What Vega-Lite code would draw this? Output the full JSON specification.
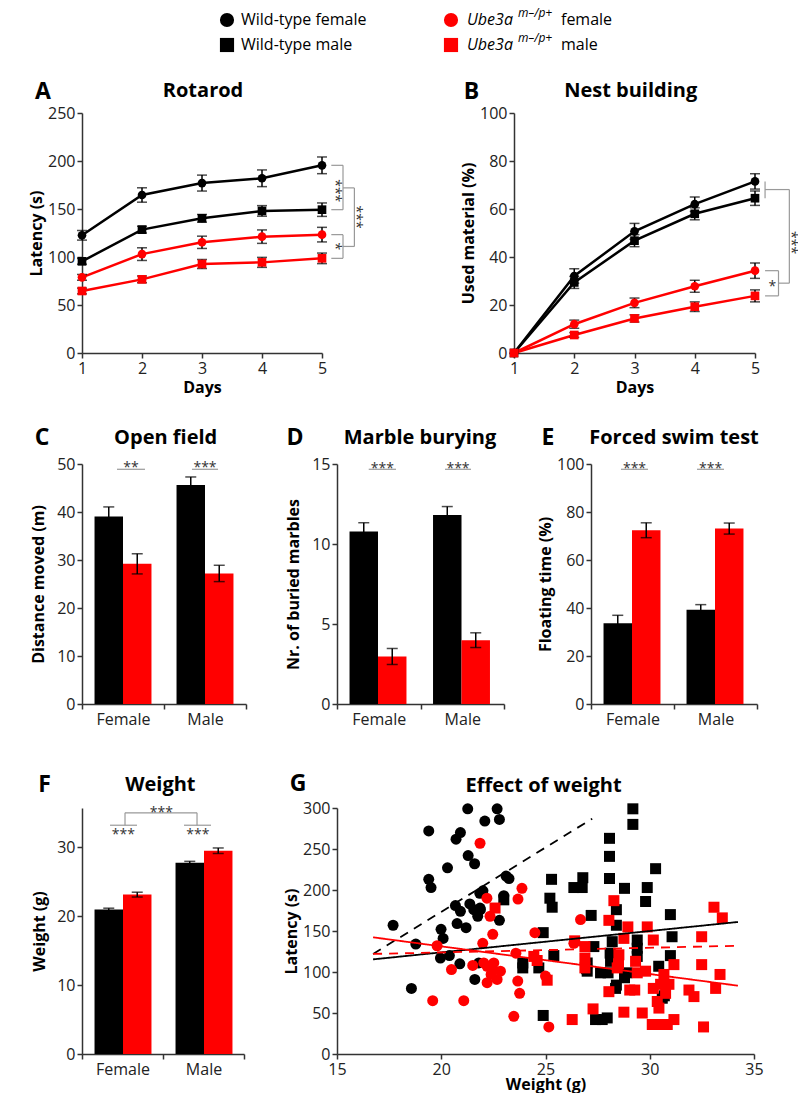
{
"$schema": "https://vega.github.io/schema/vega-lite/v6.json",
"background": "white",
"padding": {"left": 1, "top": 0, "right": 0, "bottom": 0},
"spacing": 0,
"config": {
  "font": "Open Sans",
  "view": {"stroke": null},
  "axis": {"grid": false, "domainColor": "#333333", "domainWidth": 1.5, "tickColor": "#333333", "tickWidth": 1.5, "tickSize": 5, "labelColor": "#222222", "labelFontSize": 16, "labelFont": "Open Sans", "labelPadding": 2, "titleFont": "Open Sans", "titleFontSize": 16, "titleFontWeight": "bold", "titleColor": "#000000", "titlePadding": 3, "labelFlush": false, "labelOverlap": false},
  "axisX": {"titlePadding": 3}
},
"datasets": {
  "empty": [],
  "legend": [
    {"genotype": "WT", "sex": "female", "label": "Wild-type female", "sexlabel": "female"},
    {"genotype": "WT", "sex": "male", "label": "Wild-type male", "sexlabel": "male"},
    {"genotype": "Ube", "sex": "female", "label": "", "sexlabel": "female"},
    {"genotype": "Ube", "sex": "male", "label": "", "sexlabel": "male"}
  ],
  "rotarod": [
    {"genotype": "WT", "sex": "female", "day": 1, "mean": 122.6, "lo": 117.6, "hi": 127.6},
    {"genotype": "WT", "sex": "female", "day": 2, "mean": 164.6, "lo": 157.1, "hi": 172.1},
    {"genotype": "WT", "sex": "female", "day": 3, "mean": 177, "lo": 168.7, "hi": 185.3},
    {"genotype": "WT", "sex": "female", "day": 4, "mean": 182, "lo": 173.3, "hi": 190.7},
    {"genotype": "WT", "sex": "female", "day": 5, "mean": 195.5, "lo": 186.8, "hi": 204.2},
    {"genotype": "WT", "sex": "male", "day": 1, "mean": 95.5, "lo": 92.5, "hi": 98.5},
    {"genotype": "WT", "sex": "male", "day": 2, "mean": 128.5, "lo": 125, "hi": 132},
    {"genotype": "WT", "sex": "male", "day": 3, "mean": 140.3, "lo": 136.3, "hi": 144.3},
    {"genotype": "WT", "sex": "male", "day": 4, "mean": 148, "lo": 142.5, "hi": 153.5},
    {"genotype": "WT", "sex": "male", "day": 5, "mean": 149.3, "lo": 142.3, "hi": 156.3},
    {"genotype": "Ube", "sex": "female", "day": 1, "mean": 78.8, "lo": 75.8, "hi": 81.8},
    {"genotype": "Ube", "sex": "female", "day": 2, "mean": 103, "lo": 96.4, "hi": 109.6},
    {"genotype": "Ube", "sex": "female", "day": 3, "mean": 115.3, "lo": 108.9, "hi": 121.7},
    {"genotype": "Ube", "sex": "female", "day": 4, "mean": 121.2, "lo": 114.2, "hi": 128.2},
    {"genotype": "Ube", "sex": "female", "day": 5, "mean": 123.3, "lo": 115.7, "hi": 130.9},
    {"genotype": "Ube", "sex": "male", "day": 1, "mean": 64.6, "lo": 61.6, "hi": 67.6},
    {"genotype": "Ube", "sex": "male", "day": 2, "mean": 76.7, "lo": 73.2, "hi": 80.2},
    {"genotype": "Ube", "sex": "male", "day": 3, "mean": 92.7, "lo": 88, "hi": 97.4},
    {"genotype": "Ube", "sex": "male", "day": 4, "mean": 94.4, "lo": 89.2, "hi": 99.6},
    {"genotype": "Ube", "sex": "male", "day": 5, "mean": 98.6, "lo": 93.1, "hi": 104.1}
  ],
  "nest": [
    {"genotype": "WT", "sex": "female", "day": 1, "mean": 0, "lo": 0, "hi": 0},
    {"genotype": "WT", "sex": "female", "day": 2, "mean": 32.1, "lo": 29.1, "hi": 35.1},
    {"genotype": "WT", "sex": "female", "day": 3, "mean": 50.7, "lo": 47.4, "hi": 54},
    {"genotype": "WT", "sex": "female", "day": 4, "mean": 62, "lo": 59, "hi": 65},
    {"genotype": "WT", "sex": "female", "day": 5, "mean": 71.5, "lo": 68.3, "hi": 74.7},
    {"genotype": "WT", "sex": "male", "day": 1, "mean": 0, "lo": 0, "hi": 0},
    {"genotype": "WT", "sex": "male", "day": 2, "mean": 29.4, "lo": 26.9, "hi": 31.9},
    {"genotype": "WT", "sex": "male", "day": 3, "mean": 46.8, "lo": 44.3, "hi": 49.3},
    {"genotype": "WT", "sex": "male", "day": 4, "mean": 58, "lo": 55.5, "hi": 60.5},
    {"genotype": "WT", "sex": "male", "day": 5, "mean": 64.5, "lo": 61.5, "hi": 67.5},
    {"genotype": "Ube", "sex": "female", "day": 1, "mean": 0, "lo": 0, "hi": 0},
    {"genotype": "Ube", "sex": "female", "day": 2, "mean": 12, "lo": 10.3, "hi": 13.7},
    {"genotype": "Ube", "sex": "female", "day": 3, "mean": 20.9, "lo": 18.9, "hi": 22.9},
    {"genotype": "Ube", "sex": "female", "day": 4, "mean": 27.8, "lo": 25.3, "hi": 30.3},
    {"genotype": "Ube", "sex": "female", "day": 5, "mean": 34.3, "lo": 31.1, "hi": 37.5},
    {"genotype": "Ube", "sex": "male", "day": 1, "mean": 0, "lo": 0, "hi": 0},
    {"genotype": "Ube", "sex": "male", "day": 2, "mean": 7.5, "lo": 6.5, "hi": 8.5},
    {"genotype": "Ube", "sex": "male", "day": 3, "mean": 14.4, "lo": 12.9, "hi": 15.9},
    {"genotype": "Ube", "sex": "male", "day": 4, "mean": 19.3, "lo": 17.3, "hi": 21.3},
    {"genotype": "Ube", "sex": "male", "day": 5, "mean": 23.8, "lo": 21.3, "hi": 26.3}
  ],
  "openfield": [
    {"sex": "Female", "genotype": "WT", "mean": 39.06, "lo": 37.06, "hi": 41.06},
    {"sex": "Female", "genotype": "Ube", "mean": 29.2, "lo": 27.1, "hi": 31.3},
    {"sex": "Male", "genotype": "WT", "mean": 45.6, "lo": 43.9, "hi": 47.3},
    {"sex": "Male", "genotype": "Ube", "mean": 27.2, "lo": 25.5, "hi": 28.9}
  ],
  "marble": [
    {"sex": "Female", "genotype": "WT", "mean": 10.78, "lo": 10.23, "hi": 11.33},
    {"sex": "Female", "genotype": "Ube", "mean": 2.97, "lo": 2.47, "hi": 3.47},
    {"sex": "Male", "genotype": "WT", "mean": 11.82, "lo": 11.3, "hi": 12.34},
    {"sex": "Male", "genotype": "Ube", "mean": 3.99, "lo": 3.53, "hi": 4.45}
  ],
  "swim": [
    {"sex": "Female", "genotype": "WT", "mean": 33.66, "lo": 30.36, "hi": 36.96},
    {"sex": "Female", "genotype": "Ube", "mean": 72.4, "lo": 69.3, "hi": 75.5},
    {"sex": "Male", "genotype": "WT", "mean": 39.3, "lo": 37.2, "hi": 41.4},
    {"sex": "Male", "genotype": "Ube", "mean": 73.1, "lo": 70.8, "hi": 75.4}
  ],
  "weightbars": [
    {"sex": "Female", "genotype": "WT", "mean": 20.96, "lo": 20.76, "hi": 21.16},
    {"sex": "Female", "genotype": "Ube", "mean": 23.13, "lo": 22.78, "hi": 23.48},
    {"sex": "Male", "genotype": "WT", "mean": 27.76, "lo": 27.56, "hi": 27.96},
    {"sex": "Male", "genotype": "Ube", "mean": 29.5, "lo": 29.1, "hi": 29.9}
  ],
  "frameA": [{"x": -0.3, "y": 367.7, "y2": -61.46}],
  "frameC": [{"x": -0.951, "y": 60.625, "y2": -12.29}],
  "frameF": [{"x": -0.988, "y": 42.23, "y2": -5.8}],
  "segA": [
    {"x": 5.155, "x2": 5.35, "y": 195.5, "y2": 195.5},
    {"x": 5.155, "x2": 5.35, "y": 149.3, "y2": 149.3},
    {"x": 5.35, "x2": 5.35, "y": 195.5, "y2": 149.3},
    {"x": 5.155, "x2": 5.35, "y": 123.3, "y2": 123.3},
    {"x": 5.155, "x2": 5.35, "y": 98.6, "y2": 98.6},
    {"x": 5.35, "x2": 5.35, "y": 123.3, "y2": 98.6},
    {"x": 5.35, "x2": 5.54, "y": 172, "y2": 172},
    {"x": 5.35, "x2": 5.54, "y": 111, "y2": 111},
    {"x": 5.54, "x2": 5.54, "y": 172, "y2": 111}
  ],
  "notesA": [
    {"kind": "letter", "x": 0.35, "y": 271.9, "label": "A"},
    {"kind": "ptitle", "x": 3.017, "y": 273, "label": "Rotarod"},
    {"kind": "vstar", "x": 5.22, "y": 169, "label": "***"},
    {"kind": "vstar", "x": 5.22, "y": 111, "label": "*"},
    {"kind": "vstar", "x": 5.57, "y": 141.5, "label": "***"}
  ],
  "segB": [
    {"x": 5.167, "x2": 5.167, "y": 71.5, "y2": 64.5},
    {"x": 5.167, "x2": 5.57, "y": 68.1, "y2": 68.1},
    {"x": 5.57, "x2": 5.57, "y": 68.1, "y2": 29.1},
    {"x": 5.39, "x2": 5.57, "y": 29.1, "y2": 29.1},
    {"x": 5.167, "x2": 5.39, "y": 34.3, "y2": 34.3},
    {"x": 5.167, "x2": 5.39, "y": 23.8, "y2": 23.8},
    {"x": 5.39, "x2": 5.39, "y": 34.3, "y2": 23.8}
  ],
  "notesB": [
    {"kind": "letter", "x": 0.295, "y": 108.75, "label": "B"},
    {"kind": "ptitle", "x": 2.937, "y": 109.2, "label": "Nest building"},
    {"kind": "star", "x": 5.29, "y": 29.1, "label": "*"},
    {"kind": "vstar", "x": 5.59, "y": 46, "label": "***"}
  ],
  "segC": [
    {"x": 0.427, "x2": 0.768, "y": 48.9, "y2": 48.9},
    {"x": 1.341, "x2": 1.659, "y": 48.9, "y2": 48.9}
  ],
  "notesC": [
    {"kind": "letter", "x": -0.488, "y": 55.4, "label": "C"},
    {"kind": "ptitle", "x": 1.02, "y": 55.4, "label": "Open field"},
    {"kind": "star", "x": 0.597, "y": 49.9, "label": "**"},
    {"kind": "star", "x": 1.5, "y": 49.9, "label": "***"}
  ],
  "segD": [
    {"x": 0.38, "x2": 0.707, "y": 14.67, "y2": 14.67},
    {"x": 1.293, "x2": 1.605, "y": 14.67, "y2": 14.67}
  ],
  "notesD": [
    {"kind": "letter", "x": -0.503, "y": 16.63, "label": "D"},
    {"kind": "ptitle", "x": 0.994, "y": 16.63, "label": "Marble burying"},
    {"kind": "star", "x": 0.543, "y": 14.96, "label": "***"},
    {"kind": "star", "x": 1.449, "y": 14.96, "label": "***"}
  ],
  "segE": [
    {"x": 0.361, "x2": 0.687, "y": 97.8, "y2": 97.8},
    {"x": 1.277, "x2": 1.602, "y": 97.8, "y2": 97.8}
  ],
  "notesE": [
    {"kind": "letter", "x": -0.518, "y": 110.8, "label": "E"},
    {"kind": "ptitle", "x": 1.0, "y": 110.8, "label": "Forced swim test"},
    {"kind": "star", "x": 0.524, "y": 99.76, "label": "***"},
    {"kind": "star", "x": 1.44, "y": 99.76, "label": "***"}
  ],
  "segF": [
    {"x": 0.346, "x2": 0.679, "y": 33.2, "y2": 33.2},
    {"x": 1.259, "x2": 1.593, "y": 33.2, "y2": 33.2},
    {"x": 0.531, "x2": 0.531, "y": 33.2, "y2": 35},
    {"x": 0.531, "x2": 1.42, "y": 35, "y2": 35},
    {"x": 1.42, "x2": 1.42, "y": 35, "y2": 33.2}
  ],
  "notesF": [
    {"kind": "letter", "x": -0.463, "y": 39.11, "label": "F"},
    {"kind": "ptitle", "x": 0.967, "y": 38.97, "label": "Weight"},
    {"kind": "star", "x": 0.51, "y": 32.29, "label": "***"},
    {"kind": "star", "x": 1.43, "y": 32.29, "label": "***"},
    {"kind": "star", "x": 0.98, "y": 35.6, "label": "***"}
  ],
  "notesG": [
    {"kind": "letter", "x": 13.13, "y": 328.7, "label": "G"},
    {"kind": "ptitle", "x": 24.91, "y": 327.4, "label": "Effect of weight"}
  ],
  "fits": [
    {"genotype": "WT", "sex": "female", "x": 16.73, "y": 122},
    {"genotype": "WT", "sex": "female", "x": 27.24, "y": 287},
    {"genotype": "WT", "sex": "male", "x": 16.73, "y": 115.4},
    {"genotype": "WT", "sex": "male", "x": 34.23, "y": 161},
    {"genotype": "Ube", "sex": "female", "x": 16.73, "y": 122},
    {"genotype": "Ube", "sex": "female", "x": 34.23, "y": 132},
    {"genotype": "Ube", "sex": "male", "x": 16.73, "y": 142.3},
    {"genotype": "Ube", "sex": "male", "x": 34.23, "y": 83.3}
  ],
  "weightpts": [
    {"genotype": "WT", "sex": "female", "weight": 21.27, "latency": 299},
    {"genotype": "WT", "sex": "female", "weight": 22.68, "latency": 299},
    {"genotype": "WT", "sex": "female", "weight": 22.09, "latency": 284},
    {"genotype": "WT", "sex": "female", "weight": 22.79, "latency": 286},
    {"genotype": "WT", "sex": "female", "weight": 19.4, "latency": 272},
    {"genotype": "WT", "sex": "female", "weight": 20.92, "latency": 270},
    {"genotype": "WT", "sex": "female", "weight": 20.71, "latency": 262},
    {"genotype": "WT", "sex": "female", "weight": 21.29, "latency": 242},
    {"genotype": "WT", "sex": "female", "weight": 21.6, "latency": 232},
    {"genotype": "WT", "sex": "female", "weight": 20.3, "latency": 227},
    {"genotype": "WT", "sex": "female", "weight": 19.4, "latency": 213},
    {"genotype": "WT", "sex": "female", "weight": 19.51, "latency": 203},
    {"genotype": "WT", "sex": "female", "weight": 23.11, "latency": 217},
    {"genotype": "WT", "sex": "female", "weight": 23.25, "latency": 214},
    {"genotype": "WT", "sex": "female", "weight": 21.85, "latency": 196},
    {"genotype": "WT", "sex": "female", "weight": 22.0, "latency": 199},
    {"genotype": "WT", "sex": "female", "weight": 23.0, "latency": 193},
    {"genotype": "WT", "sex": "female", "weight": 20.68, "latency": 181},
    {"genotype": "WT", "sex": "female", "weight": 20.92, "latency": 174},
    {"genotype": "WT", "sex": "female", "weight": 21.37, "latency": 183},
    {"genotype": "WT", "sex": "female", "weight": 21.56, "latency": 176},
    {"genotype": "WT", "sex": "female", "weight": 21.88, "latency": 176},
    {"genotype": "WT", "sex": "female", "weight": 21.75, "latency": 168},
    {"genotype": "WT", "sex": "female", "weight": 22.79, "latency": 163},
    {"genotype": "WT", "sex": "female", "weight": 17.69, "latency": 157},
    {"genotype": "WT", "sex": "female", "weight": 19.99, "latency": 152},
    {"genotype": "WT", "sex": "female", "weight": 20.76, "latency": 159},
    {"genotype": "WT", "sex": "female", "weight": 21.19, "latency": 154},
    {"genotype": "WT", "sex": "female", "weight": 20.09, "latency": 141},
    {"genotype": "WT", "sex": "female", "weight": 18.78, "latency": 134},
    {"genotype": "WT", "sex": "female", "weight": 19.96, "latency": 117},
    {"genotype": "WT", "sex": "female", "weight": 20.39, "latency": 120},
    {"genotype": "WT", "sex": "female", "weight": 20.89, "latency": 110},
    {"genotype": "WT", "sex": "female", "weight": 21.8, "latency": 111},
    {"genotype": "WT", "sex": "female", "weight": 21.61, "latency": 91},
    {"genotype": "WT", "sex": "female", "weight": 18.57, "latency": 80},
    {"genotype": "WT", "sex": "female", "weight": 21.86, "latency": 178},
    {"genotype": "WT", "sex": "male", "weight": 29.19, "latency": 299},
    {"genotype": "WT", "sex": "male", "weight": 29.19, "latency": 280},
    {"genotype": "WT", "sex": "male", "weight": 28.07, "latency": 263},
    {"genotype": "WT", "sex": "male", "weight": 28.07, "latency": 241},
    {"genotype": "WT", "sex": "male", "weight": 30.28, "latency": 226},
    {"genotype": "WT", "sex": "male", "weight": 25.29, "latency": 213},
    {"genotype": "WT", "sex": "male", "weight": 26.36, "latency": 203},
    {"genotype": "WT", "sex": "male", "weight": 26.79, "latency": 215},
    {"genotype": "WT", "sex": "male", "weight": 26.76, "latency": 203},
    {"genotype": "WT", "sex": "male", "weight": 28.07, "latency": 214},
    {"genotype": "WT", "sex": "male", "weight": 28.79, "latency": 202},
    {"genotype": "WT", "sex": "male", "weight": 29.88, "latency": 203},
    {"genotype": "WT", "sex": "male", "weight": 29.8, "latency": 186},
    {"genotype": "WT", "sex": "male", "weight": 25.21, "latency": 190},
    {"genotype": "WT", "sex": "male", "weight": 25.32, "latency": 179},
    {"genotype": "WT", "sex": "male", "weight": 28.4, "latency": 176},
    {"genotype": "WT", "sex": "male", "weight": 27.19, "latency": 169},
    {"genotype": "WT", "sex": "male", "weight": 30.99, "latency": 170},
    {"genotype": "WT", "sex": "male", "weight": 24.89, "latency": 148},
    {"genotype": "WT", "sex": "male", "weight": 28.4, "latency": 157},
    {"genotype": "WT", "sex": "male", "weight": 31.07, "latency": 143},
    {"genotype": "WT", "sex": "male", "weight": 28.2, "latency": 137},
    {"genotype": "WT", "sex": "male", "weight": 29.4, "latency": 139},
    {"genotype": "WT", "sex": "male", "weight": 27.32, "latency": 131},
    {"genotype": "WT", "sex": "male", "weight": 25.4, "latency": 120},
    {"genotype": "WT", "sex": "male", "weight": 23.91, "latency": 111},
    {"genotype": "WT", "sex": "male", "weight": 23.91, "latency": 105},
    {"genotype": "WT", "sex": "male", "weight": 24.68, "latency": 105},
    {"genotype": "WT", "sex": "male", "weight": 27.0, "latency": 111},
    {"genotype": "WT", "sex": "male", "weight": 27.0, "latency": 101},
    {"genotype": "WT", "sex": "male", "weight": 27.64, "latency": 99},
    {"genotype": "WT", "sex": "male", "weight": 28.79, "latency": 93},
    {"genotype": "WT", "sex": "male", "weight": 28.36, "latency": 80},
    {"genotype": "WT", "sex": "male", "weight": 30.99, "latency": 120},
    {"genotype": "WT", "sex": "male", "weight": 30.43, "latency": 107},
    {"genotype": "WT", "sex": "male", "weight": 30.6, "latency": 68},
    {"genotype": "WT", "sex": "male", "weight": 24.89, "latency": 47},
    {"genotype": "WT", "sex": "male", "weight": 27.4, "latency": 42},
    {"genotype": "WT", "sex": "male", "weight": 27.72, "latency": 42},
    {"genotype": "WT", "sex": "male", "weight": 27.96, "latency": 44},
    {"genotype": "WT", "sex": "male", "weight": 23.0, "latency": 188},
    {"genotype": "WT", "sex": "male", "weight": 28.12, "latency": 113},
    {"genotype": "WT", "sex": "male", "weight": 29.4, "latency": 129},
    {"genotype": "WT", "sex": "male", "weight": 29.4, "latency": 119},
    {"genotype": "WT", "sex": "male", "weight": 28.1, "latency": 123},
    {"genotype": "WT", "sex": "male", "weight": 28.0, "latency": 99},
    {"genotype": "WT", "sex": "male", "weight": 28.4, "latency": 84},
    {"genotype": "WT", "sex": "male", "weight": 26.97, "latency": 104},
    {"genotype": "WT", "sex": "male", "weight": 28.9, "latency": 99},
    {"genotype": "WT", "sex": "male", "weight": 30.7, "latency": 71},
    {"genotype": "Ube", "sex": "female", "weight": 21.86, "latency": 257},
    {"genotype": "Ube", "sex": "female", "weight": 22.19, "latency": 190},
    {"genotype": "Ube", "sex": "female", "weight": 22.34, "latency": 168},
    {"genotype": "Ube", "sex": "female", "weight": 23.87, "latency": 202},
    {"genotype": "Ube", "sex": "female", "weight": 23.68, "latency": 189},
    {"genotype": "Ube", "sex": "female", "weight": 22.47, "latency": 146},
    {"genotype": "Ube", "sex": "female", "weight": 21.99, "latency": 135},
    {"genotype": "Ube", "sex": "female", "weight": 19.8, "latency": 132},
    {"genotype": "Ube", "sex": "female", "weight": 24.49, "latency": 148},
    {"genotype": "Ube", "sex": "female", "weight": 26.68, "latency": 164},
    {"genotype": "Ube", "sex": "female", "weight": 26.36, "latency": 135},
    {"genotype": "Ube", "sex": "female", "weight": 23.58, "latency": 123},
    {"genotype": "Ube", "sex": "female", "weight": 20.49, "latency": 103},
    {"genotype": "Ube", "sex": "female", "weight": 21.51, "latency": 108},
    {"genotype": "Ube", "sex": "female", "weight": 22.2, "latency": 107},
    {"genotype": "Ube", "sex": "female", "weight": 22.52, "latency": 111},
    {"genotype": "Ube", "sex": "female", "weight": 22.84, "latency": 101},
    {"genotype": "Ube", "sex": "female", "weight": 22.39, "latency": 97},
    {"genotype": "Ube", "sex": "female", "weight": 22.68, "latency": 91},
    {"genotype": "Ube", "sex": "female", "weight": 22.2, "latency": 87},
    {"genotype": "Ube", "sex": "female", "weight": 23.67, "latency": 89},
    {"genotype": "Ube", "sex": "female", "weight": 23.76, "latency": 74},
    {"genotype": "Ube", "sex": "female", "weight": 19.59, "latency": 65},
    {"genotype": "Ube", "sex": "female", "weight": 21.08, "latency": 65},
    {"genotype": "Ube", "sex": "female", "weight": 23.48, "latency": 46},
    {"genotype": "Ube", "sex": "female", "weight": 25.16, "latency": 33},
    {"genotype": "Ube", "sex": "female", "weight": 25.0, "latency": 95},
    {"genotype": "Ube", "sex": "female", "weight": 22.04, "latency": 111},
    {"genotype": "Ube", "sex": "female", "weight": 22.43, "latency": 104},
    {"genotype": "Ube", "sex": "male", "weight": 22.58, "latency": 178},
    {"genotype": "Ube", "sex": "male", "weight": 28.28, "latency": 187},
    {"genotype": "Ube", "sex": "male", "weight": 28.04, "latency": 163},
    {"genotype": "Ube", "sex": "male", "weight": 28.95, "latency": 155},
    {"genotype": "Ube", "sex": "male", "weight": 29.88, "latency": 155},
    {"genotype": "Ube", "sex": "male", "weight": 30.17, "latency": 139},
    {"genotype": "Ube", "sex": "male", "weight": 28.76, "latency": 141},
    {"genotype": "Ube", "sex": "male", "weight": 33.08, "latency": 179},
    {"genotype": "Ube", "sex": "male", "weight": 33.48, "latency": 166},
    {"genotype": "Ube", "sex": "male", "weight": 32.49, "latency": 143},
    {"genotype": "Ube", "sex": "male", "weight": 32.49, "latency": 109},
    {"genotype": "Ube", "sex": "male", "weight": 33.37, "latency": 97},
    {"genotype": "Ube", "sex": "male", "weight": 31.16, "latency": 109},
    {"genotype": "Ube", "sex": "male", "weight": 30.68, "latency": 97},
    {"genotype": "Ube", "sex": "male", "weight": 30.52, "latency": 85},
    {"genotype": "Ube", "sex": "male", "weight": 30.92, "latency": 85},
    {"genotype": "Ube", "sex": "male", "weight": 30.76, "latency": 74},
    {"genotype": "Ube", "sex": "male", "weight": 30.17, "latency": 80},
    {"genotype": "Ube", "sex": "male", "weight": 29.8, "latency": 101},
    {"genotype": "Ube", "sex": "male", "weight": 29.32, "latency": 113},
    {"genotype": "Ube", "sex": "male", "weight": 29.4, "latency": 99},
    {"genotype": "Ube", "sex": "male", "weight": 28.52, "latency": 121},
    {"genotype": "Ube", "sex": "male", "weight": 28.44, "latency": 105},
    {"genotype": "Ube", "sex": "male", "weight": 26.89, "latency": 131},
    {"genotype": "Ube", "sex": "male", "weight": 26.89, "latency": 117},
    {"genotype": "Ube", "sex": "male", "weight": 26.89, "latency": 105},
    {"genotype": "Ube", "sex": "male", "weight": 24.44, "latency": 119},
    {"genotype": "Ube", "sex": "male", "weight": 24.6, "latency": 114},
    {"genotype": "Ube", "sex": "male", "weight": 28.04, "latency": 76},
    {"genotype": "Ube", "sex": "male", "weight": 29.04, "latency": 78},
    {"genotype": "Ube", "sex": "male", "weight": 29.28, "latency": 78},
    {"genotype": "Ube", "sex": "male", "weight": 31.88, "latency": 78},
    {"genotype": "Ube", "sex": "male", "weight": 32.12, "latency": 70},
    {"genotype": "Ube", "sex": "male", "weight": 33.16, "latency": 80},
    {"genotype": "Ube", "sex": "male", "weight": 27.28, "latency": 55},
    {"genotype": "Ube", "sex": "male", "weight": 26.28, "latency": 42},
    {"genotype": "Ube", "sex": "male", "weight": 28.76, "latency": 51},
    {"genotype": "Ube", "sex": "male", "weight": 29.64, "latency": 50},
    {"genotype": "Ube", "sex": "male", "weight": 30.12, "latency": 36},
    {"genotype": "Ube", "sex": "male", "weight": 30.52, "latency": 36},
    {"genotype": "Ube", "sex": "male", "weight": 30.84, "latency": 36},
    {"genotype": "Ube", "sex": "male", "weight": 31.16, "latency": 42},
    {"genotype": "Ube", "sex": "male", "weight": 32.58, "latency": 33},
    {"genotype": "Ube", "sex": "male", "weight": 30.36, "latency": 64},
    {"genotype": "Ube", "sex": "male", "weight": 30.44, "latency": 56},
    {"genotype": "Ube", "sex": "male", "weight": 26.4, "latency": 138},
    {"genotype": "Ube", "sex": "male", "weight": 28.5, "latency": 110},
    {"genotype": "Ube", "sex": "male", "weight": 25.08, "latency": 90}
  ]
},
"vconcat": [
  {
    "hconcat": [
      {
        "width": 240, "height": 240,
        "resolve": {"scale": {"x": "independent", "y": "independent"}},
        "layer": [
          {"layer": [
            {"data": {"name": "rotarod"}, "mark": {"type": "line", "strokeWidth": 2.5},
             "encoding": {
               "x": {"field": "day", "type": "quantitative", "scale": {"domain": [1, 5], "nice": false, "zero": false}, "axis": {"values": [1, 2, 3, 4, 5], "format": "d"}, "title": "Days"},
               "y": {"field": "mean", "type": "quantitative", "scale": {"domain": [0, 250], "nice": false}, "axis": {"values": [0, 50, 100, 150, 200, 250]}, "title": "Latency (s)"},
               "color": {"field": "genotype", "type": "nominal", "scale": {"domain": ["WT", "Ube"], "range": ["#000000", "#ff0000"]}, "legend": null},
               "detail": {"field": "sex", "type": "nominal"}}},
            {"data": {"name": "rotarod"}, "mark": {"type": "rule", "color": "#000", "strokeWidth": 1.5},
             "encoding": {"x": {"field": "day", "type": "quantitative", "title": "Days"}, "y": {"field": "lo", "type": "quantitative", "title": "Latency (s)"}, "y2": {"field": "hi"}}},
            {"data": {"name": "rotarod"}, "mark": {"type": "tick", "orient": "horizontal", "size": 10, "thickness": 1.5, "color": "#000"},
             "encoding": {"x": {"field": "day", "type": "quantitative", "title": "Days"}, "y": {"field": "lo", "type": "quantitative", "title": "Latency (s)"}}},
            {"data": {"name": "rotarod"}, "mark": {"type": "tick", "orient": "horizontal", "size": 10, "thickness": 1.5, "color": "#000"},
             "encoding": {"x": {"field": "day", "type": "quantitative", "title": "Days"}, "y": {"field": "hi", "type": "quantitative", "title": "Latency (s)"}}},
            {"data": {"name": "rotarod"}, "mark": {"type": "point", "filled": true, "opacity": 1, "size": 75},
             "encoding": {
               "x": {"field": "day", "type": "quantitative", "title": "Days"},
               "y": {"field": "mean", "type": "quantitative", "title": "Latency (s)"},
               "color": {"field": "genotype", "type": "nominal", "scale": {"domain": ["WT", "Ube"], "range": ["#000000", "#ff0000"]}, "legend": null},
               "shape": {"field": "sex", "type": "nominal", "scale": {"domain": ["female", "male"], "range": ["circle", "square"]}, "legend": null}}},
            {"data": {"name": "segA"}, "mark": {"type": "rule", "color": "#999999", "strokeWidth": 1.2},
             "encoding": {"x": {"field": "x", "type": "quantitative", "title": "Days"}, "x2": {"field": "x2"}, "y": {"field": "y", "type": "quantitative", "title": "Latency (s)"}, "y2": {"field": "y2"}}},
            {"data": {"name": "frameA"}, "mark": {"type": "rule", "opacity": 0},
             "encoding": {"x": {"field": "x", "type": "quantitative", "title": "Days"}, "y": {"field": "y", "type": "quantitative", "title": "Latency (s)"}, "y2": {"field": "y2"}}},
            {"data": {"name": "notesA"}, "transform": [{"filter": "datum.kind === 'vstar'"}],
             "mark": {"type": "text", "angle": 90, "fontSize": 14, "color": "#333", "baseline": "middle", "align": "center"},
             "encoding": {"x": {"field": "x", "type": "quantitative", "title": "Days"}, "y": {"field": "y", "type": "quantitative", "title": "Latency (s)"}, "text": {"field": "label"}}},
            {"data": {"name": "notesA"}, "transform": [{"filter": "datum.kind === 'letter'"}],
             "mark": {"type": "text", "fontSize": 23, "fontWeight": "bold", "color": "#000", "baseline": "middle", "align": "center"},
             "encoding": {"x": {"field": "x", "type": "quantitative", "title": "Days"}, "y": {"field": "y", "type": "quantitative", "title": "Latency (s)"}, "text": {"field": "label"}}},
            {"data": {"name": "notesA"}, "transform": [{"filter": "datum.kind === 'ptitle'"}],
             "mark": {"type": "text", "fontSize": 20, "fontWeight": "bold", "color": "#000", "baseline": "middle", "align": "center"},
             "encoding": {"x": {"field": "x", "type": "quantitative", "title": "Days"}, "y": {"field": "y", "type": "quantitative", "title": "Latency (s)"}, "text": {"field": "label"}}}
          ]},
          {
            "data": {"name": "legend"},
            "encoding": {
              "x": {"field": "genotype", "type": "nominal", "scale": {"type": "point", "domain": ["WT", "Ube"], "range": [145, 369], "padding": 0}, "axis": null},
              "y": {"field": "sex", "type": "nominal", "scale": {"type": "point", "domain": ["female", "male"], "range": [-93, -68], "padding": 0}, "axis": null}
            },
            "layer": [
              {"mark": {"type": "point", "filled": true, "opacity": 1, "size": 200},
               "encoding": {
                 "color": {"field": "genotype", "type": "nominal", "scale": {"domain": ["WT", "Ube"], "range": ["#000000", "#ff0000"]}, "legend": null},
                 "shape": {"field": "sex", "type": "nominal", "scale": {"domain": ["female", "male"], "range": ["circle", "square"]}, "legend": null}}},
              {"transform": [{"filter": "datum.genotype === 'WT'"}],
               "mark": {"type": "text", "align": "left", "baseline": "middle", "dx": 14, "fontSize": 16, "color": "#000"},
               "encoding": {"text": {"field": "label"}}},
              {"transform": [{"filter": "datum.genotype === 'Ube'"}],
               "mark": {"type": "text", "align": "left", "baseline": "middle", "dx": 16, "fontSize": 16, "fontStyle": "italic", "color": "#000"},
               "encoding": {"text": {"value": "Ube3a"}}},
              {"transform": [{"filter": "datum.genotype === 'Ube'"}],
               "mark": {"type": "text", "align": "left", "baseline": "middle", "dx": 67, "dy": -7, "fontSize": 12, "fontStyle": "italic", "color": "#000"},
               "encoding": {"text": {"value": "m–/p+"}}},
              {"transform": [{"filter": "datum.genotype === 'Ube'"}],
               "mark": {"type": "text", "align": "left", "baseline": "middle", "dx": 110, "fontSize": 16, "color": "#000"},
               "encoding": {"text": {"field": "sexlabel"}}}
            ]
          }
        ]
      },
      {
        "width": 241, "height": 240,
        "layer": [
          {"data": {"name": "nest"}, "mark": {"type": "line", "strokeWidth": 2.5},
           "encoding": {
             "x": {"field": "day", "type": "quantitative", "scale": {"domain": [1, 5], "nice": false, "zero": false}, "axis": {"values": [1, 2, 3, 4, 5], "format": "d"}, "title": "Days"},
             "y": {"field": "mean", "type": "quantitative", "scale": {"domain": [0, 100], "nice": false}, "axis": {"values": [0, 20, 40, 60, 80, 100]}, "title": "Used material (%)"},
             "color": {"field": "genotype", "type": "nominal", "scale": {"domain": ["WT", "Ube"], "range": ["#000000", "#ff0000"]}, "legend": null},
             "detail": {"field": "sex", "type": "nominal"}}},
          {"data": {"name": "nest"}, "transform": [{"filter": "datum.hi > datum.lo"}], "mark": {"type": "rule", "color": "#000", "strokeWidth": 1.5},
           "encoding": {"x": {"field": "day", "type": "quantitative", "title": "Days"}, "y": {"field": "lo", "type": "quantitative", "title": "Used material (%)"}, "y2": {"field": "hi"}}},
          {"data": {"name": "nest"}, "transform": [{"filter": "datum.hi > datum.lo"}], "mark": {"type": "tick", "orient": "horizontal", "size": 10, "thickness": 1.5, "color": "#000"},
           "encoding": {"x": {"field": "day", "type": "quantitative", "title": "Days"}, "y": {"field": "lo", "type": "quantitative", "title": "Used material (%)"}}},
          {"data": {"name": "nest"}, "transform": [{"filter": "datum.hi > datum.lo"}], "mark": {"type": "tick", "orient": "horizontal", "size": 10, "thickness": 1.5, "color": "#000"},
           "encoding": {"x": {"field": "day", "type": "quantitative", "title": "Days"}, "y": {"field": "hi", "type": "quantitative", "title": "Used material (%)"}}},
          {"data": {"name": "nest"}, "mark": {"type": "point", "filled": true, "opacity": 1, "size": 75},
           "encoding": {
             "x": {"field": "day", "type": "quantitative", "title": "Days"},
             "y": {"field": "mean", "type": "quantitative", "title": "Used material (%)"},
             "color": {"field": "genotype", "type": "nominal", "scale": {"domain": ["WT", "Ube"], "range": ["#000000", "#ff0000"]}, "legend": null},
             "shape": {"field": "sex", "type": "nominal", "scale": {"domain": ["female", "male"], "range": ["circle", "square"]}, "legend": null}}},
          {"data": {"name": "segB"}, "mark": {"type": "rule", "color": "#999999", "strokeWidth": 1.2},
           "encoding": {"x": {"field": "x", "type": "quantitative", "title": "Days"}, "x2": {"field": "x2"}, "y": {"field": "y", "type": "quantitative", "title": "Used material (%)"}, "y2": {"field": "y2"}}},
          {"data": {"name": "notesB"}, "transform": [{"filter": "datum.kind === 'vstar'"}],
           "mark": {"type": "text", "angle": 90, "fontSize": 14, "color": "#333", "baseline": "middle", "align": "center"},
           "encoding": {"x": {"field": "x", "type": "quantitative", "title": "Days"}, "y": {"field": "y", "type": "quantitative", "title": "Used material (%)"}, "text": {"field": "label"}}},
          {"data": {"name": "notesB"}, "transform": [{"filter": "datum.kind === 'star'"}],
           "mark": {"type": "text", "fontSize": 14, "color": "#333", "baseline": "alphabetic", "align": "center", "dy": 8},
           "encoding": {"x": {"field": "x", "type": "quantitative", "title": "Days"}, "y": {"field": "y", "type": "quantitative", "title": "Used material (%)"}, "text": {"field": "label"}}},
          {"data": {"name": "notesB"}, "transform": [{"filter": "datum.kind === 'letter'"}],
           "mark": {"type": "text", "fontSize": 23, "fontWeight": "bold", "color": "#000", "baseline": "middle", "align": "center"},
           "encoding": {"x": {"field": "x", "type": "quantitative", "title": "Days"}, "y": {"field": "y", "type": "quantitative", "title": "Used material (%)"}, "text": {"field": "label"}}},
          {"data": {"name": "notesB"}, "transform": [{"filter": "datum.kind === 'ptitle'"}],
           "mark": {"type": "text", "fontSize": 20, "fontWeight": "bold", "color": "#000", "baseline": "middle", "align": "center"},
           "encoding": {"x": {"field": "x", "type": "quantitative", "title": "Days"}, "y": {"field": "y", "type": "quantitative", "title": "Used material (%)"}, "text": {"field": "label"}}}
        ]
      }
    ],
    "spacing": 192,
    "bounds": "flush"
  },
  {
    "hconcat": [
      {
        "width": 164, "height": 240,
        "resolve": {"scale": {"x": "independent"}},
        "layer": [
          {"data": {"name": "openfield"},
           "layer": [
             {"mark": {"type": "bar"},
              "encoding": {
                "x": {"field": "sex", "type": "nominal", "scale": {"domain": ["Female", "Male"], "paddingInner": 0, "paddingOuter": 0}, "axis": {"title": null, "labelAngle": 0, "tickBand": "extent"}},
                "xOffset": {"field": "genotype", "type": "nominal", "scale": {"domain": ["WT", "Ube"], "paddingInner": 0, "paddingOuter": 0.44}},
                "y": {"field": "mean", "type": "quantitative", "scale": {"domain": [0, 50], "nice": false}, "axis": {"values": [0, 10, 20, 30, 40, 50], "titlePadding": 10}, "title": "Distance moved (m)"},
                "color": {"field": "genotype", "type": "nominal", "scale": {"domain": ["WT", "Ube"], "range": ["#000000", "#ff0000"]}, "legend": null}}},
             {"mark": {"type": "rule", "color": "#000", "strokeWidth": 1.5},
              "encoding": {"x": {"field": "sex", "type": "nominal"}, "xOffset": {"field": "genotype", "type": "nominal"}, "y": {"field": "lo", "type": "quantitative", "title": "Distance moved (m)"}, "y2": {"field": "hi"}}},
             {"mark": {"type": "tick", "orient": "horizontal", "size": 11, "thickness": 1.5, "color": "#000"},
              "encoding": {"x": {"field": "sex", "type": "nominal"}, "xOffset": {"field": "genotype", "type": "nominal"}, "y": {"field": "lo", "type": "quantitative", "title": "Distance moved (m)"}}},
             {"mark": {"type": "tick", "orient": "horizontal", "size": 11, "thickness": 1.5, "color": "#000"},
              "encoding": {"x": {"field": "sex", "type": "nominal"}, "xOffset": {"field": "genotype", "type": "nominal"}, "y": {"field": "hi", "type": "quantitative", "title": "Distance moved (m)"}}}
           ]},
          {"layer": [
             {"data": {"name": "segC"}, "mark": {"type": "rule", "color": "#999999", "strokeWidth": 1.2},
              "encoding": {"x": {"field": "x", "type": "quantitative", "scale": {"domain": [0, 2], "nice": false, "zero": false}, "axis": null}, "x2": {"field": "x2"}, "y": {"field": "y", "type": "quantitative", "title": "Distance moved (m)"}, "y2": {"field": "y2"}}},
             {"data": {"name": "frameC"}, "mark": {"type": "rule", "opacity": 0},
              "encoding": {"x": {"field": "x", "type": "quantitative"}, "y": {"field": "y", "type": "quantitative", "title": "Distance moved (m)"}, "y2": {"field": "y2"}}},
             {"data": {"name": "notesC"}, "transform": [{"filter": "datum.kind === 'star'"}],
              "mark": {"type": "text", "fontSize": 14, "color": "#333", "baseline": "alphabetic", "align": "center", "dy": 8},
              "encoding": {"x": {"field": "x", "type": "quantitative"}, "y": {"field": "y", "type": "quantitative", "title": "Distance moved (m)"}, "text": {"field": "label"}}},
             {"data": {"name": "notesC"}, "transform": [{"filter": "datum.kind === 'letter'"}],
              "mark": {"type": "text", "fontSize": 23, "fontWeight": "bold", "color": "#000", "baseline": "middle", "align": "center"},
              "encoding": {"x": {"field": "x", "type": "quantitative"}, "y": {"field": "y", "type": "quantitative", "title": "Distance moved (m)"}, "text": {"field": "label"}}},
             {"data": {"name": "notesC"}, "transform": [{"filter": "datum.kind === 'ptitle'"}],
              "mark": {"type": "text", "fontSize": 20, "fontWeight": "bold", "color": "#000", "baseline": "middle", "align": "center"},
              "encoding": {"x": {"field": "x", "type": "quantitative"}, "y": {"field": "y", "type": "quantitative", "title": "Distance moved (m)"}, "text": {"field": "label"}}}
           ]}
        ]
      },
      {"width": 91, "height": 1, "data": {"name": "empty"}, "mark": "point", "encoding": {}},
      {
        "width": 167, "height": 240,
        "resolve": {"scale": {"x": "independent"}},
        "layer": [
          {"data": {"name": "marble"},
           "layer": [
             {"mark": {"type": "bar"},
              "encoding": {
                "x": {"field": "sex", "type": "nominal", "scale": {"domain": ["Female", "Male"], "paddingInner": 0, "paddingOuter": 0}, "axis": {"title": null, "labelAngle": 0, "tickBand": "extent"}},
                "xOffset": {"field": "genotype", "type": "nominal", "scale": {"domain": ["WT", "Ube"], "paddingInner": 0, "paddingOuter": 0.44}},
                "y": {"field": "mean", "type": "quantitative", "scale": {"domain": [0, 15], "nice": false}, "axis": {"values": [0, 5, 10, 15], "titlePadding": 10}, "title": "Nr. of buried marbles"},
                "color": {"field": "genotype", "type": "nominal", "scale": {"domain": ["WT", "Ube"], "range": ["#000000", "#ff0000"]}, "legend": null}}},
             {"mark": {"type": "rule", "color": "#000", "strokeWidth": 1.5},
              "encoding": {"x": {"field": "sex", "type": "nominal"}, "xOffset": {"field": "genotype", "type": "nominal"}, "y": {"field": "lo", "type": "quantitative", "title": "Nr. of buried marbles"}, "y2": {"field": "hi"}}},
             {"mark": {"type": "tick", "orient": "horizontal", "size": 11, "thickness": 1.5, "color": "#000"},
              "encoding": {"x": {"field": "sex", "type": "nominal"}, "xOffset": {"field": "genotype", "type": "nominal"}, "y": {"field": "lo", "type": "quantitative", "title": "Nr. of buried marbles"}}},
             {"mark": {"type": "tick", "orient": "horizontal", "size": 11, "thickness": 1.5, "color": "#000"},
              "encoding": {"x": {"field": "sex", "type": "nominal"}, "xOffset": {"field": "genotype", "type": "nominal"}, "y": {"field": "hi", "type": "quantitative", "title": "Nr. of buried marbles"}}}
           ]},
          {"layer": [
             {"data": {"name": "segD"}, "mark": {"type": "rule", "color": "#999999", "strokeWidth": 1.2},
              "encoding": {"x": {"field": "x", "type": "quantitative", "scale": {"domain": [0, 2], "nice": false, "zero": false}, "axis": null}, "x2": {"field": "x2"}, "y": {"field": "y", "type": "quantitative", "title": "Nr. of buried marbles"}, "y2": {"field": "y2"}}},
             {"data": {"name": "notesD"}, "transform": [{"filter": "datum.kind === 'star'"}],
              "mark": {"type": "text", "fontSize": 14, "color": "#333", "baseline": "alphabetic", "align": "center", "dy": 8},
              "encoding": {"x": {"field": "x", "type": "quantitative"}, "y": {"field": "y", "type": "quantitative", "title": "Nr. of buried marbles"}, "text": {"field": "label"}}},
             {"data": {"name": "notesD"}, "transform": [{"filter": "datum.kind === 'letter'"}],
              "mark": {"type": "text", "fontSize": 23, "fontWeight": "bold", "color": "#000", "baseline": "middle", "align": "center"},
              "encoding": {"x": {"field": "x", "type": "quantitative"}, "y": {"field": "y", "type": "quantitative", "title": "Nr. of buried marbles"}, "text": {"field": "label"}}},
             {"data": {"name": "notesD"}, "transform": [{"filter": "datum.kind === 'ptitle'"}],
              "mark": {"type": "text", "fontSize": 20, "fontWeight": "bold", "color": "#000", "baseline": "middle", "align": "center"},
              "encoding": {"x": {"field": "x", "type": "quantitative"}, "y": {"field": "y", "type": "quantitative", "title": "Nr. of buried marbles"}, "text": {"field": "label"}}}
           ]}
        ]
      },
      {"width": 87, "height": 1, "data": {"name": "empty"}, "mark": "point", "encoding": {}},
      {
        "width": 166, "height": 240,
        "resolve": {"scale": {"x": "independent"}},
        "layer": [
          {"data": {"name": "swim"},
           "layer": [
             {"mark": {"type": "bar"},
              "encoding": {
                "x": {"field": "sex", "type": "nominal", "scale": {"domain": ["Female", "Male"], "paddingInner": 0, "paddingOuter": 0}, "axis": {"title": null, "labelAngle": 0, "tickBand": "extent"}},
                "xOffset": {"field": "genotype", "type": "nominal", "scale": {"domain": ["WT", "Ube"], "paddingInner": 0, "paddingOuter": 0.44}},
                "y": {"field": "mean", "type": "quantitative", "scale": {"domain": [0, 100], "nice": false}, "axis": {"values": [0, 20, 40, 60, 80, 100]}, "title": "Floating time (%)"},
                "color": {"field": "genotype", "type": "nominal", "scale": {"domain": ["WT", "Ube"], "range": ["#000000", "#ff0000"]}, "legend": null}}},
             {"mark": {"type": "rule", "color": "#000", "strokeWidth": 1.5},
              "encoding": {"x": {"field": "sex", "type": "nominal"}, "xOffset": {"field": "genotype", "type": "nominal"}, "y": {"field": "lo", "type": "quantitative", "title": "Floating time (%)"}, "y2": {"field": "hi"}}},
             {"mark": {"type": "tick", "orient": "horizontal", "size": 11, "thickness": 1.5, "color": "#000"},
              "encoding": {"x": {"field": "sex", "type": "nominal"}, "xOffset": {"field": "genotype", "type": "nominal"}, "y": {"field": "lo", "type": "quantitative", "title": "Floating time (%)"}}},
             {"mark": {"type": "tick", "orient": "horizontal", "size": 11, "thickness": 1.5, "color": "#000"},
              "encoding": {"x": {"field": "sex", "type": "nominal"}, "xOffset": {"field": "genotype", "type": "nominal"}, "y": {"field": "hi", "type": "quantitative", "title": "Floating time (%)"}}}
           ]},
          {"layer": [
             {"data": {"name": "segE"}, "mark": {"type": "rule", "color": "#999999", "strokeWidth": 1.2},
              "encoding": {"x": {"field": "x", "type": "quantitative", "scale": {"domain": [0, 2], "nice": false, "zero": false}, "axis": null}, "x2": {"field": "x2"}, "y": {"field": "y", "type": "quantitative", "title": "Floating time (%)"}, "y2": {"field": "y2"}}},
             {"data": {"name": "notesE"}, "transform": [{"filter": "datum.kind === 'star'"}],
              "mark": {"type": "text", "fontSize": 14, "color": "#333", "baseline": "alphabetic", "align": "center", "dy": 8},
              "encoding": {"x": {"field": "x", "type": "quantitative"}, "y": {"field": "y", "type": "quantitative", "title": "Floating time (%)"}, "text": {"field": "label"}}},
             {"data": {"name": "notesE"}, "transform": [{"filter": "datum.kind === 'letter'"}],
              "mark": {"type": "text", "fontSize": 23, "fontWeight": "bold", "color": "#000", "baseline": "middle", "align": "center"},
              "encoding": {"x": {"field": "x", "type": "quantitative"}, "y": {"field": "y", "type": "quantitative", "title": "Floating time (%)"}, "text": {"field": "label"}}},
             {"data": {"name": "notesE"}, "transform": [{"filter": "datum.kind === 'ptitle'"}],
              "mark": {"type": "text", "fontSize": 20, "fontWeight": "bold", "color": "#000", "baseline": "middle", "align": "center"},
              "encoding": {"x": {"field": "x", "type": "quantitative"}, "y": {"field": "y", "type": "quantitative", "title": "Floating time (%)"}, "text": {"field": "label"}}}
           ]}
        ]
      }
    ],
    "spacing": 0,
    "bounds": "flush"
  },
  {
    "hconcat": [
      {
        "width": 162, "height": 246,
        "resolve": {"scale": {"x": "independent"}},
        "layer": [
          {"data": {"name": "weightbars"},
           "layer": [
             {"mark": {"type": "bar"},
              "encoding": {
                "x": {"field": "sex", "type": "nominal", "scale": {"domain": ["Female", "Male"], "paddingInner": 0, "paddingOuter": 0}, "axis": {"title": null, "labelAngle": 0, "tickBand": "extent"}},
                "xOffset": {"field": "genotype", "type": "nominal", "scale": {"domain": ["WT", "Ube"], "paddingInner": 0, "paddingOuter": 0.44}},
                "y": {"field": "mean", "type": "quantitative", "scale": {"domain": [0, 35.7], "nice": false}, "axis": {"values": [0, 5, 10, 15, 20, 25, 30, 35], "titlePadding": 9}, "title": "Weight (g)"},
                "color": {"field": "genotype", "type": "nominal", "scale": {"domain": ["WT", "Ube"], "range": ["#000000", "#ff0000"]}, "legend": null}}},
             {"mark": {"type": "rule", "color": "#000", "strokeWidth": 1.5},
              "encoding": {"x": {"field": "sex", "type": "nominal"}, "xOffset": {"field": "genotype", "type": "nominal"}, "y": {"field": "lo", "type": "quantitative", "title": "Weight (g)"}, "y2": {"field": "hi"}}},
             {"mark": {"type": "tick", "orient": "horizontal", "size": 11, "thickness": 1.5, "color": "#000"},
              "encoding": {"x": {"field": "sex", "type": "nominal"}, "xOffset": {"field": "genotype", "type": "nominal"}, "y": {"field": "lo", "type": "quantitative", "title": "Weight (g)"}}},
             {"mark": {"type": "tick", "orient": "horizontal", "size": 11, "thickness": 1.5, "color": "#000"},
              "encoding": {"x": {"field": "sex", "type": "nominal"}, "xOffset": {"field": "genotype", "type": "nominal"}, "y": {"field": "hi", "type": "quantitative", "title": "Weight (g)"}}}
           ]},
          {"layer": [
             {"data": {"name": "segF"}, "mark": {"type": "rule", "color": "#999999", "strokeWidth": 1.2},
              "encoding": {"x": {"field": "x", "type": "quantitative", "scale": {"domain": [0, 2], "nice": false, "zero": false}, "axis": null}, "x2": {"field": "x2"}, "y": {"field": "y", "type": "quantitative", "title": "Weight (g)"}, "y2": {"field": "y2"}}},
             {"data": {"name": "frameF"}, "mark": {"type": "rule", "opacity": 0},
              "encoding": {"x": {"field": "x", "type": "quantitative"}, "y": {"field": "y", "type": "quantitative", "title": "Weight (g)"}, "y2": {"field": "y2"}}},
             {"data": {"name": "notesF"}, "transform": [{"filter": "datum.kind === 'star'"}],
              "mark": {"type": "text", "fontSize": 14, "color": "#333", "baseline": "alphabetic", "align": "center", "dy": 8},
              "encoding": {"x": {"field": "x", "type": "quantitative"}, "y": {"field": "y", "type": "quantitative", "title": "Weight (g)"}, "text": {"field": "label"}}},
             {"data": {"name": "notesF"}, "transform": [{"filter": "datum.kind === 'letter'"}],
              "mark": {"type": "text", "fontSize": 23, "fontWeight": "bold", "color": "#000", "baseline": "middle", "align": "center"},
              "encoding": {"x": {"field": "x", "type": "quantitative"}, "y": {"field": "y", "type": "quantitative", "title": "Weight (g)"}, "text": {"field": "label"}}},
             {"data": {"name": "notesF"}, "transform": [{"filter": "datum.kind === 'ptitle'"}],
              "mark": {"type": "text", "fontSize": 20, "fontWeight": "bold", "color": "#000", "baseline": "middle", "align": "center"},
              "encoding": {"x": {"field": "x", "type": "quantitative"}, "y": {"field": "y", "type": "quantitative", "title": "Weight (g)"}, "text": {"field": "label"}}}
           ]}
        ]
      },
      {
        "width": 417, "height": 246,
        "layer": [
          {"data": {"name": "weightpts"}, "transform": [{"filter": "datum.genotype === 'WT'"}],
           "mark": {"type": "point", "filled": true, "opacity": 1, "size": 121},
           "encoding": {
             "x": {"field": "weight", "type": "quantitative", "scale": {"domain": [15, 35], "nice": false, "zero": false}, "axis": {"values": [15, 20, 25, 30, 35], "titlePadding": -1}, "title": "Weight (g)"},
             "y": {"field": "latency", "type": "quantitative", "scale": {"domain": [0, 300], "nice": false}, "axis": {"values": [0, 50, 100, 150, 200, 250, 300]}, "title": "Latency (s)"},
             "color": {"field": "genotype", "type": "nominal", "scale": {"domain": ["WT", "Ube"], "range": ["#000000", "#ff0000"]}, "legend": null},
             "shape": {"field": "sex", "type": "nominal", "scale": {"domain": ["female", "male"], "range": ["circle", "square"]}, "legend": null}}},
          {"data": {"name": "weightpts"}, "transform": [{"filter": "datum.genotype === 'Ube'"}],
           "mark": {"type": "point", "filled": true, "opacity": 1, "size": 121},
           "encoding": {
             "x": {"field": "weight", "type": "quantitative", "title": "Weight (g)"},
             "y": {"field": "latency", "type": "quantitative", "title": "Latency (s)"},
             "color": {"field": "genotype", "type": "nominal", "scale": {"domain": ["WT", "Ube"], "range": ["#000000", "#ff0000"]}, "legend": null},
             "shape": {"field": "sex", "type": "nominal", "scale": {"domain": ["female", "male"], "range": ["circle", "square"]}, "legend": null}}},
          {"data": {"name": "fits"}, "mark": {"type": "line", "strokeWidth": 1.8},
           "encoding": {
             "x": {"field": "x", "type": "quantitative", "title": "Weight (g)"},
             "y": {"field": "y", "type": "quantitative", "title": "Latency (s)"},
             "color": {"field": "genotype", "type": "nominal", "scale": {"domain": ["WT", "Ube"], "range": ["#000000", "#ff0000"]}, "legend": null},
             "strokeDash": {"field": "sex", "type": "nominal", "scale": {"domain": ["female", "male"], "range": [[9, 7], [1, 0]]}, "legend": null}}},
          {"data": {"name": "notesG"}, "transform": [{"filter": "datum.kind === 'letter'"}],
           "mark": {"type": "text", "fontSize": 23, "fontWeight": "bold", "color": "#000", "baseline": "middle", "align": "center"},
           "encoding": {"x": {"field": "x", "type": "quantitative", "title": "Weight (g)"}, "y": {"field": "y", "type": "quantitative", "title": "Latency (s)"}, "text": {"field": "label"}}},
          {"data": {"name": "notesG"}, "transform": [{"filter": "datum.kind === 'ptitle'"}],
           "mark": {"type": "text", "fontSize": 20, "fontWeight": "bold", "color": "#000", "baseline": "middle", "align": "center"},
           "encoding": {"x": {"field": "x", "type": "quantitative", "title": "Weight (g)"}, "y": {"field": "y", "type": "quantitative", "title": "Latency (s)"}, "text": {"field": "label"}}}
        ]
      }
    ],
    "spacing": 93,
    "bounds": "flush"
  }
]
}
